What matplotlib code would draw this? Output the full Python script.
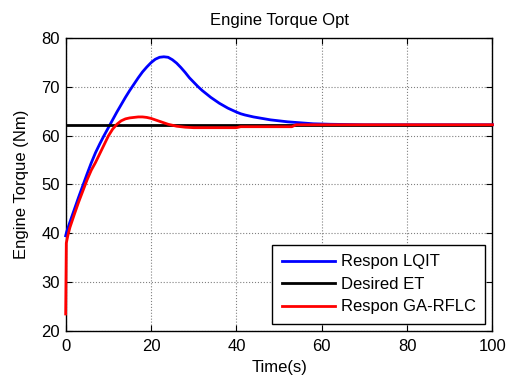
import matplotlib
matplotlib.use("Agg")
import matplotlib.pyplot as plt

plt.rcParams['font.family'] = ['Liberation Sans', 'DejaVu Sans']

# Respon LQIT (blue)
t_lqit = [0, 0.2, 1, 2, 3, 4, 5, 6, 7, 8, 9, 10, 11, 12, 13, 14, 15, 16, 17, 18, 19, 20,
          21, 22, 23, 24, 25, 26, 27, 28, 29, 30, 31, 32, 33, 34, 35, 36, 37, 38, 39, 40,
          41, 42, 44, 46, 48, 50, 52, 55, 58, 62, 70, 100]
v_lqit = [39.5, 40.2, 42.3, 44.8, 47.3, 49.7, 52.1, 54.4, 56.5, 58.3, 60.0, 61.6, 63.2, 64.8,
          66.3, 67.8, 69.2, 70.5, 71.8, 73.0, 74.0, 74.9, 75.6, 76.0, 76.1, 76.0, 75.5, 74.8,
          73.9, 72.9, 71.8, 70.9, 70.0, 69.2, 68.5, 67.8, 67.2, 66.6, 66.1, 65.6, 65.2, 64.8,
          64.45, 64.2, 63.8, 63.5, 63.2, 63.0, 62.8, 62.6, 62.4, 62.3, 62.2, 62.2]

# Desired ET (black)
t_des = [0, 100]
v_des = [62.2, 62.2]

# Respon GA-RFLC (red)
t_ga = [0, 0.15, 0.5, 1, 2, 3, 4, 5, 6, 7, 8, 9, 10, 11, 12, 13, 14, 15, 16, 17, 18, 19,
        20, 21, 22, 23, 24, 25, 26, 27, 28, 30, 40, 41, 53, 54, 100]
v_ga = [23.5, 38.0, 39.5, 41.2, 43.8, 46.3, 48.6, 50.9, 52.9, 54.5, 56.3, 58.1, 59.9, 61.3,
        62.3, 63.0, 63.4, 63.6, 63.7, 63.8, 63.8, 63.7, 63.5, 63.2, 62.9, 62.6, 62.3, 62.1,
        61.9, 61.8, 61.7, 61.6, 61.6, 61.8, 61.8, 62.2, 62.2]

labels = ['Respon LQIT', 'Desired ET', 'Respon GA-RFLC']
xticks = [0, 20, 40, 60, 80, 100]
yticks = [20, 30, 40, 50, 60, 70, 80]

fig = plt.figure(figsize=(5.13, 3.81), dpi=100)
ax = fig.add_axes([0.128, 0.131, 0.832, 0.770])

ax.plot(t_lqit, v_lqit, color='#0000ff', lw=2, label=labels[0], zorder=3, clip_on=False)
ax.plot(t_des, v_des, color='black', lw=2, label=labels[1], zorder=3)
ax.plot(t_ga, v_ga, color='#ff0000', lw=2, label=labels[2], zorder=3, clip_on=False)

ax.set_xlim(0, 100)
ax.set_ylim(20, 80)
ax.set_xticks(xticks)
ax.set_yticks(yticks)
ax.tick_params(direction='in', labelsize=12, length=4, top=True, right=True, pad=4)
ax.tick_params(axis='x', pad=6)
ax.grid(True, color='#808080', linestyle=':', linewidth=0.8)
for s in ax.spines.values():
    s.set_linewidth(1.0)

ax.set_title('Engine Torque Opt', fontsize=12, pad=9)
ax.set_xlabel('Time(s)', fontsize=12, labelpad=4)
ax.set_ylabel('Engine Torque (Nm)', fontsize=12, labelpad=9)

leg = ax.legend(loc='lower right', fontsize=12, fancybox=False, edgecolor='black',
                framealpha=1, handlelength=3.2, handletextpad=0.35, borderaxespad=0.45,
                labelspacing=0.45, borderpad=0.55)
leg.get_frame().set_linewidth(1.0)

fig.savefig('out.png', dpi=100)
